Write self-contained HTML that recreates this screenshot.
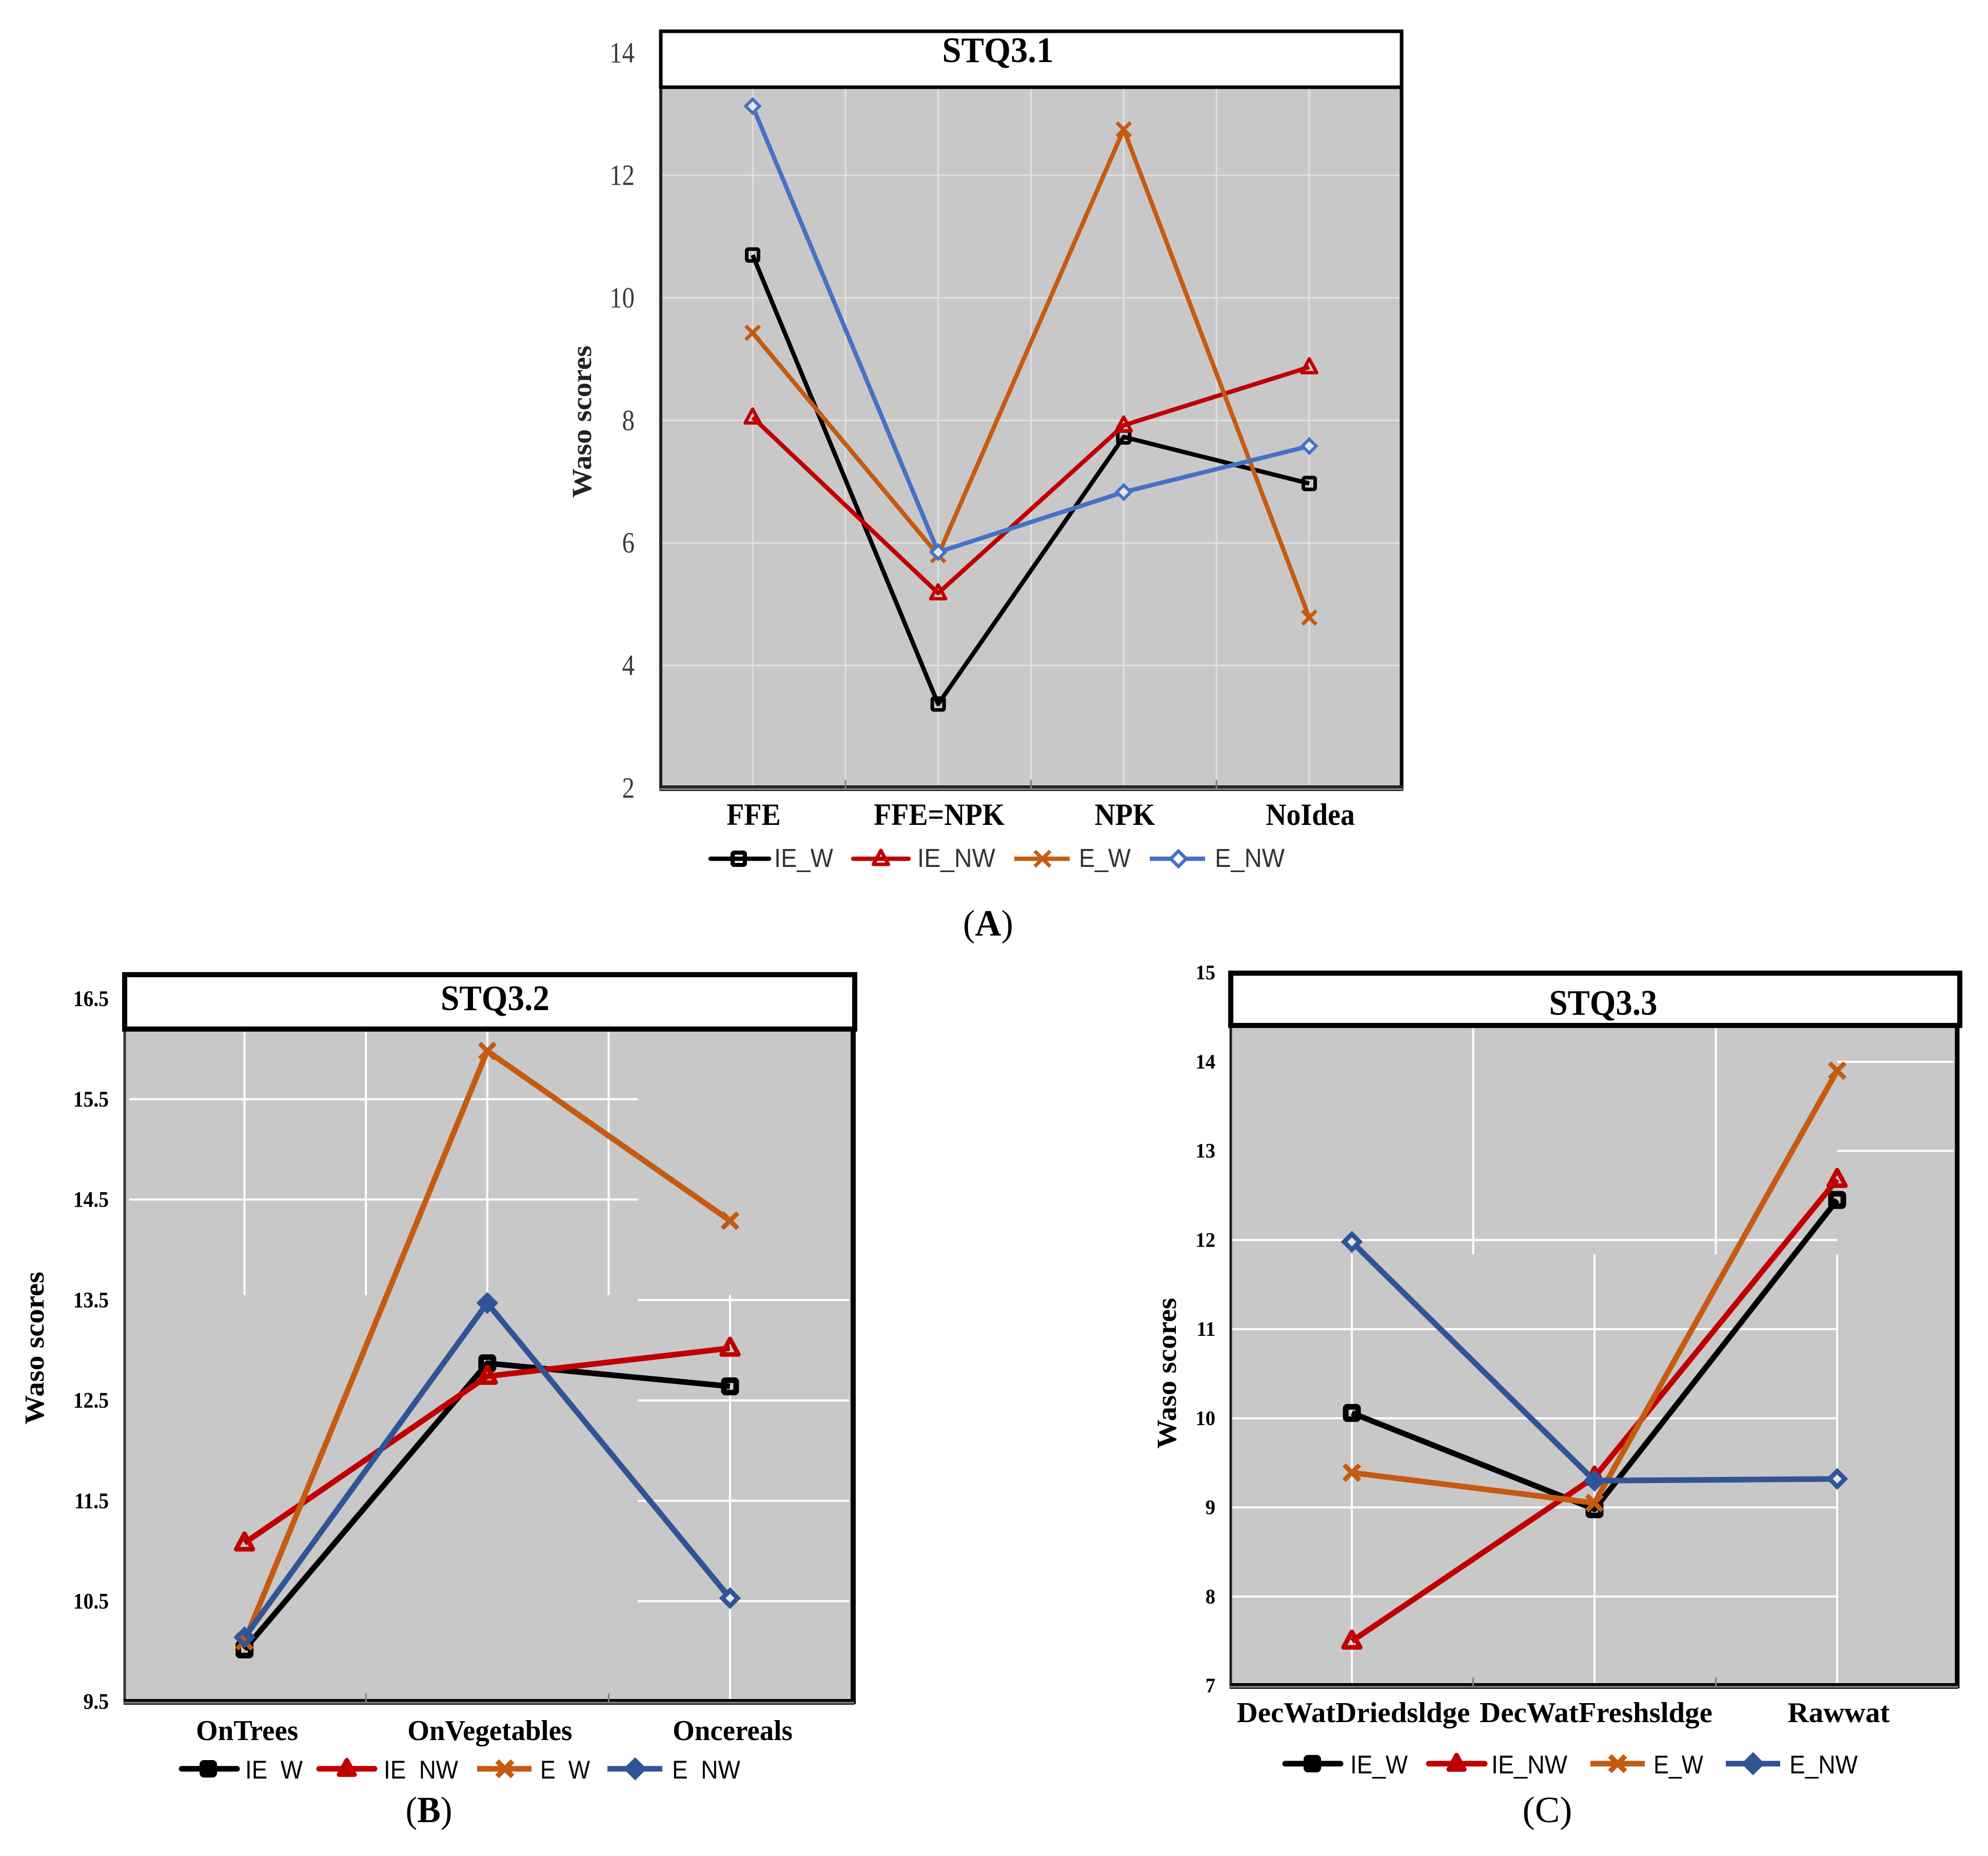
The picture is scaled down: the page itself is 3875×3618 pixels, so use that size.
<!DOCTYPE html>
<html lang="en">
<head>
<meta charset="utf-8">
<title>Waso scores STQ3.1 STQ3.2 STQ3.3</title>
<style>
html,body{margin:0;padding:0;background:#fff;width:3875px;height:3618px;overflow:hidden}
svg{display:block;position:absolute;left:0;top:0}
text{font-family:"Liberation Serif",serif}
.sans{font-family:"Liberation Sans",sans-serif}
</style>
</head>
<body>
<svg id="figure" xmlns="http://www.w3.org/2000/svg" width="3875" height="3618" viewBox="0 0 3875 3618"></svg>
<script>
/* ---- Data: panel A ---- */
const categoriesA = ["FFE", "FFE=NPK", "NPK", "NoIdea"];
const tickLabelsA = ["2", "4", "6", "8", "10", "12", "14"];
const ieWA  = [10.70, 3.37, 7.73, 6.97];
const ieNWA = [8.05, 5.18, 7.92, 8.87];
const eWA   = [9.43, 5.80, 12.75, 4.78];
const eNWA  = [13.13, 5.85, 6.83, 7.58];

/* ---- Data: panel B ---- */
const categoriesB = ["OnTrees", "OnVegetables", "Oncereals"];
const tickLabelsB = ["9.5", "10.5", "11.5", "12.5", "13.5", "14.5", "15.5", "16.5"];
const ieWB  = [10.02, 12.87, 12.64];
const ieNWB = [11.08, 12.74, 13.02];
const eWB   = [10.10, 15.98, 14.29];
const eNWB  = [10.14, 13.47, 10.53];

/* ---- Data: panel C ---- */
const categoriesC = ["DecWatDriedsldge", "DecWatFreshsldge", "Rawwat"];
const tickLabelsC = ["7", "8", "9", "10", "11", "12", "13", "14", "15"];
const ieWC  = [10.06, 8.98, 12.45];
const ieNWC = [7.50, 9.34, 12.68];
const eWC   = [9.39, 9.05, 13.90];
const eNWC  = [11.98, 9.30, 9.32];

const seriesNames = ["IE_W", "IE_NW", "E_W", "E_NW"];
const seriesNamesB = ["IE\u00a0\u00a0W", "IE\u00a0\u00a0NW", "E\u00a0\u00a0W", "E\u00a0\u00a0NW"];

const svg = document.getElementById('figure');
const NS = 'http://www.w3.org/2000/svg';

function mk(tag, parent, attrs) {
  const e = document.createElementNS(NS, tag);
  for (const k in attrs) e.setAttribute(k, attrs[k]);
  parent.appendChild(e);
  return e;
}

function label(parent, str, x, y, size, o) {
  const t = mk('text', parent, {
    x: x, y: y,
    'font-size': size,
    'font-weight': o.weight || 'normal',
    'text-anchor': o.anchor || 'middle',
    fill: o.fill || '#000'
  });
  if (o.cls) t.setAttribute('class', o.cls);
  if (o.rotate) t.setAttribute('transform', 'rotate(' + o.rotate + ' ' + x + ' ' + y + ')');
  t.textContent = str;
  const target = o.width || t.getComputedTextLength() * (o.k || 1);
  t.setAttribute('textLength', target);
  t.setAttribute('lengthAdjust', 'spacingAndGlyphs');
  return t;
}

function drawMarker(parent, shape, cx, cy, color, fill, m) {
  let e;
  if (shape === 'square') {
    const s = m.square;
    e = mk('rect', parent, {x: cx - s / 2, y: cy - s / 2, width: s, height: s, rx: 3, fill: fill, stroke: color, 'stroke-width': m.squareStroke});
  } else if (shape === 'triangle') {
    const s = m.tri;
    const pts = [cx + ',' + (cy - s * 0.62), (cx + s * 0.56) + ',' + (cy + s * 0.42), (cx - s * 0.56) + ',' + (cy + s * 0.42)].join(' ');
    e = mk('polygon', parent, {points: pts, fill: fill, stroke: color, 'stroke-width': m.triStroke, 'stroke-linejoin': 'round'});
  } else if (shape === 'x') {
    const s = m.x;
    const d = 'M' + (cx - s) + ' ' + (cy - s) + 'L' + (cx + s) + ' ' + (cy + s) + 'M' + (cx - s) + ' ' + (cy + s) + 'L' + (cx + s) + ' ' + (cy - s);
    e = mk('path', parent, {d: d, fill: 'none', stroke: color, 'stroke-width': m.xStroke});
  } else {
    const s = m.dia;
    const pts = [cx + ',' + (cy - s), (cx + s) + ',' + cy, cx + ',' + (cy + s), (cx - s) + ',' + cy].join(' ');
    e = mk('polygon', parent, {points: pts, fill: fill, stroke: color, 'stroke-width': m.diaStroke});
  }
  return e;
}

function panelLabel(parent, c) {
  const t = mk('text', parent, {
    x: c.panelX, y: c.panelBase,
    'font-size': 72,
    'text-anchor': 'middle',
    fill: '#000',
    textLength: c.panelWidth,
    lengthAdjust: 'spacingAndGlyphs'
  });
  const a = mk('tspan', t, {});
  a.textContent = '(';
  const b = mk('tspan', t, {'font-weight': c.panelWeight});
  b.textContent = c.panel;
  const d = mk('tspan', t, {});
  d.textContent = ')';
  return t;
}

function drawChart(c) {
  const g = mk('g', svg, {});
  
  

  const tickVals = c.ticks.map(parseFloat);
  const vMin = tickVals[0], vMax = tickVals[tickVals.length - 1];
  const y = v => c.yBottom + (v - vMin) * (c.yTop - c.yBottom) / (vMax - vMin);
  const x = i => c.xFirst + i * (c.xLast - c.xFirst) / (c.categories.length - 1);

  /* plot background */
  const bg = mk('rect', g, {x: c.left, y: c.titleBottom, width: c.right - c.left, height: y(vMin) - c.titleBottom, fill: '#c8c8c8'});
  
  

  /* grid */
  const grid = mk('g', g, {stroke: c.gridColor, 'stroke-width': c.gridWidth, fill: 'none'});
  
  
  c.hGrid.forEach(h => {
    h.values.forEach(v => {
      mk('line', grid, {x1: x(h.from), x2: x(h.to), y1: y(v), y2: y(v)});
    });
  });
  c.vGrid.forEach(s => {
    s.at.forEach(i => {
      mk('line', grid, {x1: x(i), x2: x(i), y1: s.top === null ? c.titleBottom : y(s.top), y2: y(s.bottom)});
    });
  });

  /* frame sides */
  const leftAxis = mk('line', g, {x1: c.left, x2: c.left, y1: c.titleTop, y2: y(vMin) + 5, stroke: c.leftColor, 'stroke-width': c.leftWidth});
  
  
  const rightEdge = mk('line', g, {x1: c.right, x2: c.right, y1: c.titleTop, y2: y(vMin) + 5, stroke: '#000', 'stroke-width': c.rightWidth});
  
  

  /* bottom axis */
  const band = mk('rect', g, {x: c.left - 2, y: y(vMin) - 5, width: c.right - c.left + 4, height: 11, fill: c.axisDark});
  
  
  mk('rect', g, {x: c.left - 2, y: y(vMin) + 0.5, width: c.right - c.left + 4, height: 3.5, fill: '#808080'});
  c.axisTicks.forEach(i => {
    const t = mk('line', g, {x1: x(i), x2: x(i), y1: y(vMin) - 16, y2: y(vMin) + 2, stroke: '#808080', 'stroke-width': 3});
    
    
  });

  /* title box */
  const tb = mk('rect', g, {x: c.titleLeft, y: c.titleTop, width: c.titleRight - c.titleLeft, height: c.titleBottom - c.titleTop, fill: '#fff', stroke: '#000', 'stroke-width': c.titleStroke});
  
  
  const tt = label(g, c.title, c.titleX, c.titleBase, 70, {weight: 'bold', width: c.titleWidth});
  
  

  /* y ticks */
  c.ticks.forEach((s, i) => {
    const t = label(g, s, c.tickRight, y(tickVals[i]) + c.tickSize * 0.33, c.tickSize, {anchor: 'end', weight: c.tickWeight, fill: c.tickFill, k: c.tickK});
    
    
  });

  /* y title */
  const yt = label(g, 'Waso scores', c.yTitleX, c.yTitleY, c.yTitleSize, {weight: 'bold', rotate: -90, width: c.yTitleLen, fill: c.yTitleFill});
  
  

  /* x labels */
  c.categories.forEach((s, i) => {
    const t = label(g, s, x(i) + c.catOffset, c.catBase, c.catSize, {weight: 'bold', k: c.catK});
    
    
  });

  /* series */
  c.series.forEach(s => {
    const sg = mk('g', g, {});
    
    
    const pts = s.values.map((v, i) => x(i) + ',' + y(v)).join(' ');
    const pl = mk('polyline', sg, {points: pts, fill: 'none', stroke: s.color, 'stroke-width': c.lineWidth, 'stroke-linejoin': 'round'});
    
    
    s.values.forEach((v, i) => {
      const f = s.fills ? s.fills[i] : 'none';
      const m = drawMarker(sg, s.shape, x(i), y(v), s.color, f, c.marker);
      
      
    });
  });

  /* legend */
  const lg = mk('g', g, {});
  
  
  c.series.forEach((s, i) => {
    const L = c.legend[i];
    const en = mk('g', lg, {});
    
    
    mk('line', en, {x1: L.a, x2: L.b, y1: c.legendY, y2: c.legendY, stroke: s.color, 'stroke-width': c.legendLine, 'stroke-linecap': i < 2 ? 'round' : 'butt'});
    drawMarker(en, s.shape, L.m, c.legendY, s.color, s.legendFill || 'none', c.legendMarker);
    label(en, c.names[i], L.t, c.legendBase, c.legendSize, {anchor: 'start', width: L.w, cls: 'sans', fill: c.legendFill});
  });

  /* panel letter */
  const pl = panelLabel(g, c);
  
  
}

const markerThin = {square: 23, squareStroke: 7, tri: 26, triStroke: 6.5, x: 13.5, xStroke: 7, dia: 13.5, diaStroke: 6};
const markerThick = {square: 24, squareStroke: 11, tri: 29, triStroke: 9, x: 15, xStroke: 9, dia: 15, diaStroke: 9};
const legendThick = {square: 23, squareStroke: 11, tri: 27, triStroke: 9, x: 15, xStroke: 10, dia: 17, diaStroke: 8};

drawChart({
  id: 'stq3-1', title: 'STQ3.1', panel: 'A', panelX: 1926, panelBase: 1824, panelWeight: 'bold', panelWidth: 98,
  categories: categoriesA, ticks: tickLabelsA, names: seriesNames,
  series: [
    {key: 'ie-w', values: ieWA, color: '#000000', shape: 'square'},
    {key: 'ie-nw', values: ieNWA, color: '#c00000', shape: 'triangle'},
    {key: 'e-w', values: eWA, color: '#c55a11', shape: 'x'},
    {key: 'e-nw', values: eNWA, color: '#4472c4', shape: 'diamond', fills: ['#e6e6e6', '#e6e6e6', '#e6e6e6', '#e6e6e6'], legendFill: '#ffffff'}
  ],
  left: 1288, right: 2732, titleLeft: 1288, titleRight: 2732, titleTop: 61, titleBottom: 170, titleStroke: 7,
  titleX: 1945, titleBase: 121, titleWidth: 217,
  yBottom: 1536, yTop: 103, xFirst: 1467, xLast: 2552,
  gridColor: '#e0e0e0', gridWidth: 3, leftColor: '#222', leftWidth: 6, rightWidth: 7, axisDark: '#222',
  hGrid: [{values: [4, 6, 8, 10, 12], from: -0.49, to: 3.49}],
  vGrid: [{at: [0, 0.5, 1, 1.5, 2, 2.5, 3], top: null, bottom: 2}],
  axisTicks: [0.5, 1.5, 2.5],
  tickRight: 1237, tickSize: 57, tickWeight: 'normal', tickFill: '#3a3a3a', tickK: 0.86,
  yTitleX: 1152, yTitleY: 822, yTitleSize: 54, yTitleLen: 297, yTitleFill: '#222',
  catBase: 1608, catSize: 60, catK: 0.93, catOffset: 2,
  lineWidth: 8.5, marker: markerThin, legendMarker: {square: 24, squareStroke: 8, tri: 26, triStroke: 7, x: 15, xStroke: 7, dia: 15, diaStroke: 6.5},
  legendY: 1674, legendBase: 1690, legendSize: 51, legendLine: 8.5, legendFill: '#333',
  legend: [
    {a: 1385, b: 1499, m: 1440, t: 1509, w: 115},
    {a: 1663, b: 1771, m: 1717, t: 1788, w: 152},
    {a: 1977, b: 2085, m: 2032, t: 2103, w: 101},
    {a: 2241, b: 2349, m: 2297, t: 2368, w: 136}
  ]
});

drawChart({
  id: 'stq3-2', title: 'STQ3.2', panel: 'B', panelX: 836, panelBase: 3552, panelWeight: 'bold', panelWidth: 91,
  categories: categoriesB, ticks: tickLabelsB, names: seriesNamesB,
  series: [
    {key: 'ie-w', values: ieWB, color: '#000000', shape: 'square', legendFill: '#000'},
    {key: 'ie-nw', values: ieNWB, color: '#c00000', shape: 'triangle', legendFill: '#c00000'},
    {key: 'e-w', values: eWB, color: '#c55a11', shape: 'x'},
    {key: 'e-nw', values: eNWB, color: '#2f5597', shape: 'diamond', fills: ['none', '#2f5597', '#e6e6e6'], legendFill: '#2f5597'}
  ],
  left: 243, right: 1663, titleLeft: 243, titleRight: 1666, titleTop: 1900, titleBottom: 2006, titleStroke: 10,
  titleX: 965, titleBase: 1969, titleWidth: 212,
  yBottom: 3317, yTop: 1947, xFirst: 476.6, xLast: 1423,
  gridColor: '#ffffff', gridWidth: 4, leftColor: '#333', leftWidth: 5, rightWidth: 10, axisDark: '#000',
  hGrid: [{values: [14.5, 15.5], from: -0.475, to: 1.62}, {values: [10.5, 11.5, 12.5, 13.5], from: 1.62, to: 2.49}],
  vGrid: [{at: [0, 0.5, 1, 1.5], top: null, bottom: 13.55}, {at: [2], top: 13.55, bottom: 9.5}],
  axisTicks: [0.5, 1.5],
  tickRight: 212, tickSize: 43, tickWeight: 'bold', tickFill: '#000', tickK: 0.92,
  yTitleX: 85, yTitleY: 2628, yTitleSize: 54, yTitleLen: 298, yTitleFill: '#000',
  catBase: 3392, catSize: 56, catK: 0.98, catOffset: 5,
  lineWidth: 11, marker: markerThick, legendMarker: legendThick,
  legendY: 3448, legendBase: 3467, legendSize: 50, legendLine: 11, legendFill: '#000',
  legend: [
    {a: 354, b: 462, m: 406, t: 478, w: 112},
    {a: 622, b: 730, m: 676, t: 748, w: 145},
    {a: 930, b: 1036, m: 984, t: 1053, w: 97},
    {a: 1184, b: 1291, m: 1238, t: 1310, w: 133}
  ]
});

drawChart({
  id: 'stq3-3', title: 'STQ3.3', panel: 'C', panelX: 3016, panelBase: 3552, panelWeight: 'normal', panelWidth: 97,
  categories: categoriesC, ticks: tickLabelsC, names: seriesNames,
  series: [
    {key: 'ie-w', values: ieWC, color: '#000000', shape: 'square', legendFill: '#000'},
    {key: 'ie-nw', values: ieNWC, color: '#c00000', shape: 'triangle', legendFill: '#c00000'},
    {key: 'e-w', values: eWC, color: '#c55a11', shape: 'x'},
    {key: 'e-nw', values: eNWC, color: '#2f5597', shape: 'diamond', fills: ['#e6e6e6', '#2f5597', '#e6e6e6'], legendFill: '#2f5597'}
  ],
  left: 2399, right: 3815, titleLeft: 2399, titleRight: 3820, titleTop: 1897, titleBottom: 1999, titleStroke: 10,
  titleX: 3125, titleBase: 1978, titleWidth: 211,
  yBottom: 3286, yTop: 1896, xFirst: 2635, xLast: 3581,
  gridColor: '#ffffff', gridWidth: 4, leftColor: '#222', leftWidth: 5, rightWidth: 9, axisDark: '#000',
  hGrid: [{values: [8, 9, 10, 11, 12], from: -0.495, to: 2}, {values: [13, 14], from: 2, to: 2.48}],
  vGrid: [{at: [0.5, 1.5], top: null, bottom: 11.84}, {at: [0, 1, 2], top: 11.84, bottom: 7}],
  axisTicks: [0.5, 1.5],
  tickRight: 2369, tickSize: 40, tickWeight: 'bold', tickFill: '#000', tickK: 0.97,
  yTitleX: 2292, yTitleY: 2677, yTitleSize: 54, yTitleLen: 294, yTitleFill: '#000',
  catBase: 3357, catSize: 56, catK: 1.015, catOffset: 3,
  lineWidth: 11, marker: markerThick, legendMarker: legendThick,
  legendY: 3438, legendBase: 3457, legendSize: 50, legendLine: 11, legendFill: '#000',
  legend: [
    {a: 2505, b: 2613, m: 2558, t: 2632, w: 112},
    {a: 2785, b: 2894, m: 2839, t: 2907, w: 148},
    {a: 3100, b: 3206, m: 3153, t: 3223, w: 97},
    {a: 3364, b: 3470, m: 3417, t: 3488, w: 133}
  ]
});
</script>
</body>
</html>
